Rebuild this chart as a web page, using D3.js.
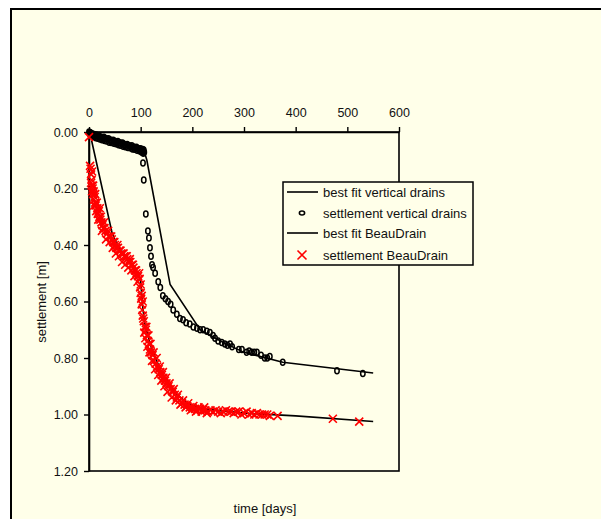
<!DOCTYPE html>
<html><head><meta charset="utf-8">
<script src="https://cdn.jsdelivr.net/npm/d3@7"></script>
<style>body{margin:0;background:#fff}svg{display:block;font-family:Arial,"Liberation Sans",sans-serif}</style>
</head><body><svg id="c" width="601" height="519"></svg>
<script>
const xTicks=[0,100,200,300,400,500,600];
const yTicks=[0,0.2,0.4,0.6,0.8,1.0,1.2];
const legendLabels=["best fit vertical drains","settlement vertical drains","best fit BeauDrain","settlement BeauDrain"];
// settlement vertical drains (time [days], settlement [m])
const vdT=[0,1,2,3,4,5,6,8,10,12,14,16,18,20,23,26,29,32,35,38,41,44,47,50,53,56,59,62,65,68,71,74,77,80,83,86,89,92,95,98,100,102,104,105,106,
 2,5,9,13,17,21,25,30,34,39,43,48,52,57,61,66,70,75,79,84,88,93,97,101,103,105,107,
 104.5,106,110,114,116,118,120,122,124,128,134,138,143,148,153,158,163,170,176,182,188,195,202,209,215,221,228,234,240,244,250,257,263,268,273,277,290,296,305,310,315,320,325,333,340,345,350,375,480,530];
const vdS=[0.0,0.003,0.002,0.006,0.004,0.008,0.006,0.01,0.009,0.012,0.011,0.015,0.013,0.016,0.018,0.02,0.019,0.023,0.025,0.024,0.028,0.03,0.029,0.033,0.035,0.034,0.038,0.04,0.039,0.043,0.045,0.044,0.048,0.05,0.049,0.053,0.055,0.054,0.058,0.06,0.059,0.063,0.062,0.066,0.064,
 0.009,0.012,0.016,0.02,0.022,0.025,0.027,0.03,0.032,0.036,0.037,0.04,0.042,0.045,0.047,0.05,0.052,0.055,0.056,0.06,0.061,0.065,0.066,0.07,0.072,0.075,0.072,
 0.11,0.17,0.29,0.35,0.375,0.41,0.44,0.47,0.48,0.50,0.53,0.55,0.58,0.59,0.60,0.61,0.63,0.645,0.66,0.665,0.675,0.68,0.69,0.695,0.70,0.70,0.705,0.71,0.72,0.73,0.74,0.745,0.75,0.755,0.75,0.76,0.77,0.77,0.78,0.775,0.78,0.78,0.78,0.79,0.80,0.80,0.795,0.815,0.845,0.855];
// best fit vertical drains
const vdFitT=[0,105,108,112,157,215,260,300,375,550];
const vdFitS=[0,0.066,0.075,0.10,0.54,0.70,0.745,0.78,0.815,0.853];
// settlement BeauDrain
const bdT=[0,3,4,5,5,6,7,8,9,10,11,12,13,15,16,17,19,20,22,24,26,28,30,32,35,38,41,44,47,50,53,56,59,62,65,68,71,74,77,80,83,86,89,92,95,98,99,100,101,102,103,104,106,108,110,112,114,116,118,120,123,126,129,132,135,138,141,144,147,150,154,158,162,166,170,175,180,185,190,195,200,205,210,215,220,225,230,235,240,250,260,270,275,280,290,300,305,310,320,325,330,335,340,365,472,523,
 2,4,6,8,10,12,14,18,21,23,25,29,33,37,40,43,46,49,52,55,58,61,64,67,70,73,76,79,82,85,88,91,94,97,100,102,104,105,107,109,111,113,115,117,119,122,125,128,131,134,137,140,143,146,149,152,156,160,164,168,172,177,182,187,192,197,202,207,212,218,223,228,245,255,265,285,295,315,345,350];
const bdS=[0.018,0.13,0.15,0.17,0.19,0.14,0.20,0.22,0.21,0.24,0.23,0.25,0.26,0.25,0.27,0.29,0.28,0.30,0.31,0.32,0.33,0.34,0.34,0.35,0.36,0.37,0.37,0.38,0.39,0.40,0.41,0.41,0.42,0.43,0.43,0.44,0.44,0.45,0.46,0.46,0.47,0.48,0.49,0.50,0.51,0.52,0.55,0.57,0.59,0.61,0.63,0.65,0.67,0.69,0.70,0.72,0.74,0.75,0.77,0.78,0.79,0.81,0.82,0.83,0.84,0.85,0.86,0.87,0.88,0.89,0.90,0.91,0.92,0.93,0.94,0.95,0.96,0.965,0.97,0.975,0.98,0.98,0.985,0.98,0.985,0.985,0.99,0.985,0.99,0.99,0.99,0.99,0.99,0.995,0.99,0.995,0.99,1.0,1.0,0.995,1.0,1.0,1.0,1.005,1.015,1.025,
 0.12,0.18,0.21,0.19,0.26,0.22,0.28,0.31,0.27,0.30,0.35,0.32,0.38,0.35,0.39,0.37,0.41,0.39,0.43,0.40,0.44,0.42,0.46,0.43,0.47,0.44,0.48,0.45,0.49,0.47,0.51,0.49,0.53,0.50,0.54,0.58,0.60,0.66,0.71,0.73,0.69,0.76,0.72,0.78,0.75,0.81,0.78,0.84,0.80,0.86,0.83,0.88,0.85,0.90,0.87,0.92,0.89,0.94,0.91,0.95,0.93,0.965,0.95,0.975,0.96,0.985,0.97,0.99,0.975,0.99,0.975,0.995,0.985,0.995,0.985,0.99,1.0,0.995,1.0,1.005];
// best fit BeauDrain
const bdFitT=[5,45,55,75,95,100,104,108,120,140,165,190,220,300,400,550];
const bdFitS=[0.03,0.36,0.40,0.45,0.50,0.53,0.62,0.68,0.76,0.85,0.92,0.96,0.98,0.995,1.005,1.025];

const FONT="Arial, 'Liberation Sans', sans-serif";
const svg=d3.select("#c");
const bg="#FFFFE9";
svg.append("rect").attr("x",11).attr("y",9).attr("width",620).attr("height",540).attr("fill",bg).attr("stroke","#000").attr("stroke-width",2);

const x=d3.scaleLinear().domain([0,600]).range([89,399]);
const y=d3.scaleLinear().domain([0,1.2]).range([132,471]);

svg.append("rect").attr("x",x(0)).attr("y",y(0)).attr("width",x(600)-x(0)).attr("height",y(1.2)-y(0)).attr("fill","none").attr("stroke","#000").attr("stroke-width",1.6);

const xa=svg.append("g").attr("transform",`translate(0,${y(0)})`).call(d3.axisTop(x).tickValues(xTicks).tickSize(5).tickPadding(10).tickSizeOuter(0).tickFormat(d3.format("d")));
const ya=svg.append("g").attr("transform",`translate(${x(0)},0)`).call(d3.axisLeft(y).tickValues(yTicks).tickSize(5).tickPadding(6).tickSizeOuter(0).tickFormat(d3.format(".2f")));
[xa,ya].forEach(a=>{a.selectAll("path").attr("stroke","#000").attr("stroke-width",1.6);a.selectAll("line").attr("stroke","#000").attr("stroke-width",1.4);a.selectAll("text").attr("font-size",12.5).attr("fill","#111").attr("font-family",FONT);});

const line=d3.line().x(d=>x(d[0])).y(d=>y(d[1]));
const vdFit=vdFitT.map((t,i)=>[t,vdFitS[i]]);
const bdFit=bdFitT.map((t,i)=>[t,bdFitS[i]]);
svg.append("path").attr("d",line(vdFit)).attr("fill","none").attr("stroke","#000").attr("stroke-width",1.6);
svg.append("path").attr("d",line(bdFit)).attr("fill","none").attr("stroke","#000").attr("stroke-width",1.6);

svg.append("g").selectAll("ellipse").data(vdT.map((t,i)=>[t,vdS[i]])).join("ellipse")
 .attr("cx",d=>x(d[0])).attr("cy",d=>y(d[1])).attr("rx",2.2).attr("ry",3)
 .attr("fill","none").attr("stroke","#000").attr("stroke-width",1.5);

const cross=(cx,cy,s)=>`M${cx-s},${cy-s}L${cx+s},${cy+s}M${cx-s},${cy+s}L${cx+s},${cy-s}`;
svg.append("g").selectAll("path").data(bdT.map((t,i)=>[t,bdS[i]])).join("path")
 .attr("d",d=>cross(x(d[0]),y(d[1]),4)).attr("stroke","#FF0000").attr("stroke-width",1.6).attr("fill","none");

const lg=svg.append("g");
lg.append("rect").attr("x",283).attr("y",182).attr("width",190).attr("height",83).attr("fill",bg).attr("stroke","#000").attr("stroke-width",1.5);
const rows=[192,213,233,255];
legendLabels.forEach((lab,i)=>{
  const ry=rows[i];
  if(i===0||i===2){lg.append("line").attr("x1",287).attr("x2",318).attr("y1",ry).attr("y2",ry).attr("stroke","#000").attr("stroke-width",1.6);}
  else if(i===1){lg.append("ellipse").attr("cx",302).attr("cy",ry).attr("rx",2.6).attr("ry",2).attr("fill","none").attr("stroke","#000").attr("stroke-width",1.6);}
  else {lg.append("path").attr("d",cross(302,ry,4.5)).attr("stroke","#FF0000").attr("stroke-width",1.6);}
  lg.append("text").attr("x",323).attr("y",ry+4.5).attr("font-size",13).attr("fill","#111").attr("font-family",FONT).text(lab);
});

svg.append("text").attr("x",265).attr("y",513).attr("text-anchor","middle").attr("font-size",13).attr("fill","#111").attr("font-family",FONT).text("time [days]");
svg.append("text").attr("transform","translate(46,302) rotate(-90)").attr("text-anchor","middle").attr("font-size",13).attr("fill","#111").attr("font-family",FONT).text("settlement [m]");
</script></body></html>
